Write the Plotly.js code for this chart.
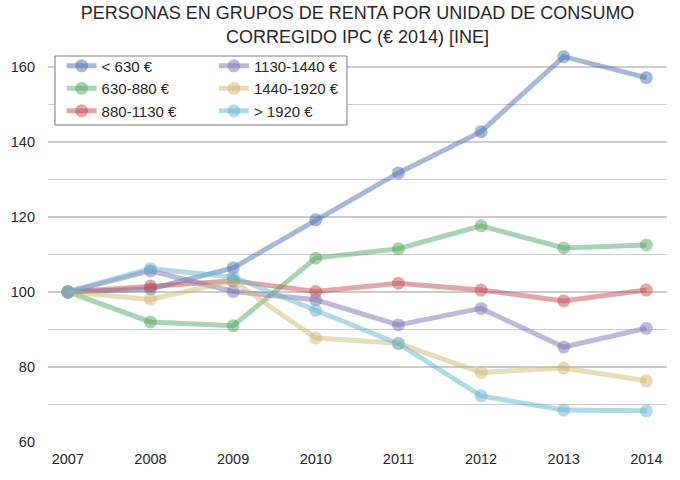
<!DOCTYPE html>
<html>
<head>
<meta charset="utf-8">
<script src="https://cdn.plot.ly/plotly-3.0.1.min.js"></script>
<style>html,body{margin:0;padding:0;background:#fff;}#chart{width:680px;height:480px;}</style>
</head>
<body>
<div id="chart"></div>
<script>
const years = [2007, 2008, 2009, 2010, 2011, 2012, 2013, 2014];
const seriesNames = ["< 630 €", "630-880 €", "880-1130 €", "1130-1440 €", "1440-1920 €", "> 1920 €"];
const lt630 = [100, 100.8, 106.4, 119.2, 131.7, 142.7, 162.7, 157.1];
const r630_880 = [100, 92.0, 91.0, 109.0, 111.5, 117.6, 111.7, 112.5];
const r880_1130 = [100, 101.6, 103.0, 100.1, 102.3, 100.5, 97.6, 100.5];
const r1130_1440 = [100, 105.6, 100.1, 97.9, 91.2, 95.6, 85.3, 90.3];
const r1440_1920 = [100, 98.0, 102.9, 87.7, 86.3, 78.5, 79.7, 76.3];
const gt1920 = [100, 106.2, 104.0, 95.1, 86.2, 72.3, 68.5, 68.3];
const seriesValues = [lt630, r630_880, r880_1130, r1130_1440, r1440_1920, gt1920];
const colors = ["rgba(76,114,176,0.5)", "rgba(85,168,104,0.5)", "rgba(196,78,82,0.5)",
                "rgba(129,114,178,0.5)", "rgba(204,185,116,0.5)", "rgba(100,181,205,0.5)"];
const legendIds = ["legend", "legend", "legend", "legend2", "legend2", "legend2"];

const traces = seriesNames.map((n, i) => ({
  type: "scatter",
  mode: "lines+markers",
  x: years,
  y: seriesValues[i],
  name: n,
  legend: legendIds[i],
  line: {color: colors[i], width: 5},
  marker: {color: colors[i], size: 13, line: {width: 0}}
}));

const font = {family: "Liberation Sans, Arial, sans-serif", color: "#262626"};
const legendCommon = {
  bgcolor: "rgba(0,0,0,0)", borderwidth: 0,
  font: {family: font.family, color: "#262626", size: 15},
  xref: "paper", yref: "paper", xanchor: "left", yanchor: "top",
  tracegroupgap: 0
};

const layout = {
  width: 680, height: 480,
  paper_bgcolor: "#ffffff", plot_bgcolor: "#ffffff",
  margin: {l: 48, r: 13, t: 48, b: 38},
  font: font,
  title: {
    text: "PERSONAS EN GRUPOS DE RENTA POR UNIDAD DE CONSUMO<br>CORREGIDO IPC (€ 2014) [INE]",
    font: {family: font.family, size: 18, color: "#262626"},
    x: 0.5, xref: "paper", xanchor: "center",
    y: 0.96, yref: "container", yanchor: "top"
  },
  xaxis: {
    range: [2006.76, 2014.25],
    tickmode: "array", tickvals: years, ticktext: years.map(String),
    showgrid: false, zeroline: false, showline: false, ticks: "",
    tickfont: {family: font.family, size: 14.5, color: "#262626"},
    ticklabelstandoff: 6
  },
  yaxis: {
    range: [60, 165],
    tick0: 60, dtick: 20,
    showgrid: true, gridcolor: "#cccccc", gridwidth: 1.5,
    minor: {dtick: 10, showgrid: true, gridcolor: "#cccccc", gridwidth: 1.5, ticks: ""},
    zeroline: false, showline: false, ticks: "",
    tickfont: {family: font.family, size: 14.5, color: "#262626"},
    ticklabelstandoff: 12
  },
  showlegend: true,
  legend: Object.assign({}, legendCommon, {x: 0.022, y: 0.996}),
  legend2: Object.assign({}, legendCommon, {x: 0.268, y: 0.996}),
  shapes: [{
    type: "rect", xref: "paper", yref: "paper",
    x0: 0.0113, x1: 0.483, y0: 0.8046, y1: 0.9797,
    line: {color: "#777777", width: 1}, fillcolor: "#ffffff", layer: "above"
  }]
};

Plotly.newPlot("chart", traces, layout, {displayModeBar: false, staticPlot: true});
</script>
</body>
</html>
